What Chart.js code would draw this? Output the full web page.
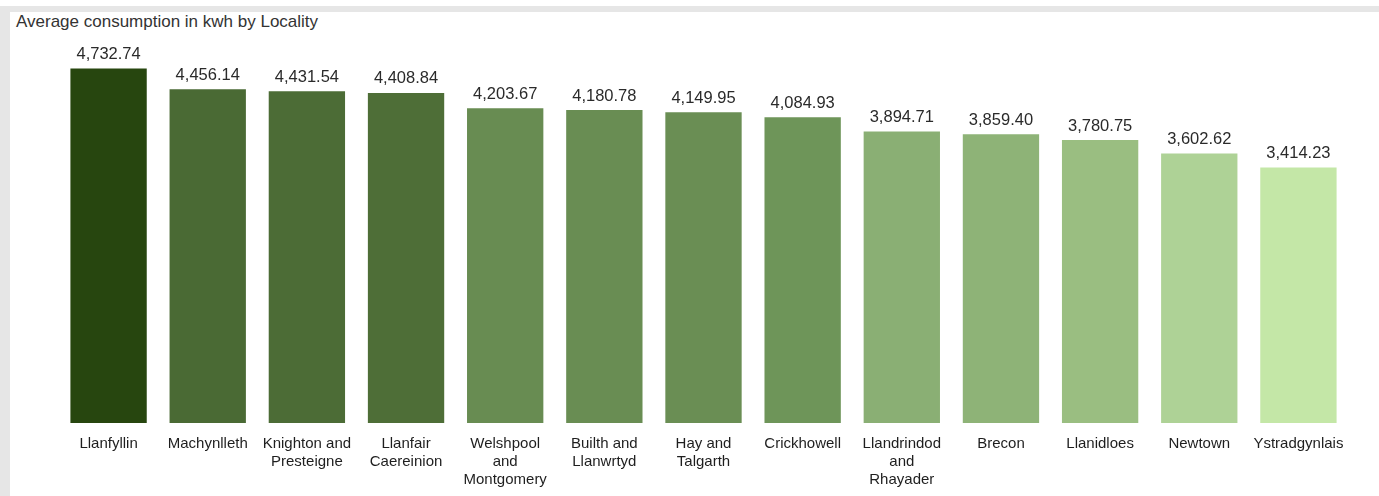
<!DOCTYPE html>
<html>
<head>
<meta charset="utf-8">
<script src="https://cdn.jsdelivr.net/npm/chart.js@4"></script>
<style>
  html, body { margin: 0; padding: 0; background: #fff; }
  #frame {
    position: absolute; left: 0; top: 6px; width: 1379px; height: 490px;
    border-top: 6px solid #e6e6e6; border-left: 10px solid #e6e6e6;
    box-sizing: border-box;
  }
  #title {
    position: absolute; left: 16px; top: 12px;
    font: 17px "Liberation Sans", Arial, sans-serif; color: #333;
  }
  #wrap { position: absolute; left: 0; top: 0; width: 1379px; height: 496px; }
</style>
</head>
<body>
<div id="frame"></div>
<div id="title">Average consumption in kwh by Locality</div>
<div id="wrap"><canvas id="chart"></canvas></div>
<script>
const localities = [
    'Llanfyllin', 'Machynlleth', ['Knighton and', 'Presteigne'], ['Llanfair', 'Caereinion'],
    ['Welshpool', 'and', 'Montgomery'], ['Builth and', 'Llanwrtyd'], ['Hay and', 'Talgarth'],
    'Crickhowell', ['Llandrindod', 'and', 'Rhayader'], 'Brecon', 'Llanidloes', 'Newtown', 'Ystradgynlais'
];
const avgConsumption = [4732.74, 4456.14, 4431.54, 4408.84, 4203.67, 4180.78, 4149.95,
    4084.93, 3894.71, 3859.40, 3780.75, 3602.62, 3414.23];
const barColors = ['#27460f', '#4a6a34', '#4c6c36', '#4e6e37', '#688c52', '#698d53', '#6a8e54',
    '#6e9559', '#8aaf74', '#8eb377', '#9abe81', '#aed296', '#c4e7a7'];

const fmt = (v) => v.toLocaleString('en-US', { minimumFractionDigits: 2, maximumFractionDigits: 2 });

const valueLabels = {
    id: 'valueLabels',
    afterDatasetsDraw(chart) {
        const ctx = chart.ctx;
        const meta = chart.getDatasetMeta(0);
        ctx.save();
        ctx.font = '16.5px "Liberation Sans", Arial, sans-serif';
        ctx.fillStyle = '#2a2a2a';
        ctx.textAlign = 'center';
        ctx.textBaseline = 'middle';
        meta.data.forEach((bar, i) => {
            ctx.fillText(fmt(avgConsumption[i]), bar.x, bar.y - 13);
        });
        ctx.restore();
    }
};

new Chart(document.querySelector('#chart').getContext('2d'), {
    type: 'bar',
    data: {
        labels: localities,
        datasets: [{
            data: avgConsumption,
            backgroundColor: barColors,
            borderColor: 'rgba(255,255,255,0.35)',
            borderWidth: 1,
            barPercentage: 0.79,
            categoryPercentage: 1
        }]
    },
    options: {
        responsive: true,
        maintainAspectRatio: false,
        animation: false,
        layout: { padding: { left: 59, right: 31, top: 40, bottom: -5 } },
        plugins: { legend: { display: false }, tooltip: { enabled: false } },
        scales: {
            y: { display: false, min: 0, max: 5100 },
            x: {
                grid: { display: false, drawTicks: false },
                border: { display: false },
                ticks: {
                    padding: 12,
                    maxRotation: 0,
                    autoSkip: false,
                    color: '#1e1e1e',
                    font: { family: '"Liberation Sans", Arial, sans-serif', size: 15, lineHeight: '18px' }
                }
            }
        }
    },
    plugins: [valueLabels]
});
</script>
</body>
</html>
